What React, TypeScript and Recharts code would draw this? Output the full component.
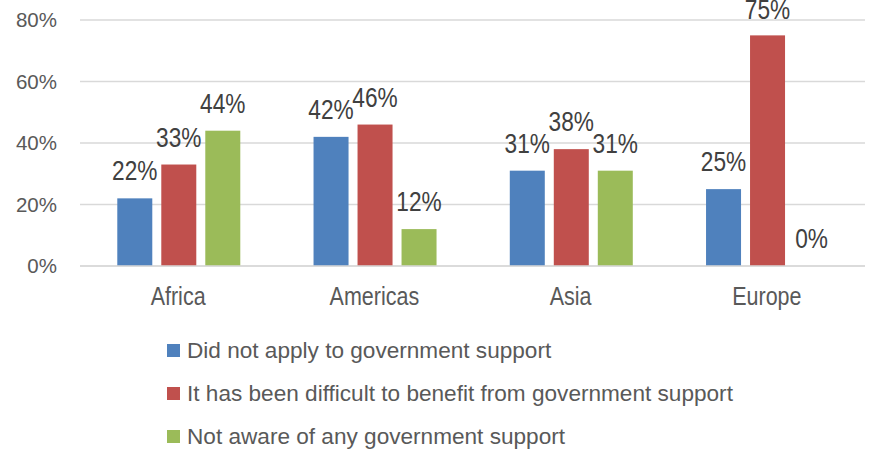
import React from 'react';
import { BarChart, Bar, XAxis, YAxis, CartesianGrid } from 'recharts';

const categories = ['Africa', 'Americas', 'Asia', 'Europe'];
const didNotApply = [22, 42, 31, 25];
const difficult = [33, 46, 38, 75];
const notAware = [44, 12, 31, 0];
const yTicks = [0, 20, 40, 60, 80];

const seriesNames = [
  'Did not apply to government support',
  'It has been difficult to benefit from government support',
  'Not aware of any government support',
];
const colors = ['#4F81BD', '#C0504D', '#9BBB59'];

const data = categories.map((c, i) => ({
  name: c,
  a: didNotApply[i],
  b: difficult[i],
  c: notAware[i],
}));

const FONT = '"Liberation Sans", Arial, sans-serif';

const pct = (v: any) => `${v}%`;

const makeShape = (fill: string, key: string) => (props: any) => {
  const { x, y, width, height, payload } = props;
  const v = payload ? payload[key] : props.value;
  const h = Math.max(0, height || 0);
  const cx = x + width / 2;
  const by = Math.max(y - 18, 19);
  return (
    <g>
      {h > 0 && <rect x={x} y={y} width={width} height={h} fill={fill} />}
      <text
        transform={`translate(${cx},${by}) scale(0.81,1)`}
        x={0}
        y={0}
        textAnchor="middle"
        fill="#404040"
        fontSize={28}
        fontFamily={FONT}
      >
        {pct(v)}
      </text>
    </g>
  );
};

const XTick = (props: any) => {
  const { x, y, payload } = props;
  return (
    <text
      transform={`translate(${x},${y + 39}) scale(0.86,1)`}
      x={0}
      y={0}
      textAnchor="middle"
      fill="#595959"
      fontSize={25}
      fontFamily={FONT}
    >
      {payload.value}
    </text>
  );
};

export default function App() {
  return (
    <div style={{ position: 'absolute', left: 0, top: 0, width: 869, height: 454, background: '#fff', fontFamily: FONT }}>
      <BarChart
        width={869}
        height={454}
        data={data}
        margin={{ top: 20, right: 4, bottom: 148, left: 0 }}
        barGap={9}
        barCategoryGap="19%"
      >
        <CartesianGrid vertical={false} stroke="#d9d9d9" strokeWidth={1.5} />
        <XAxis
          dataKey="name"
          height={40}
          axisLine={{ stroke: '#d9d9d9', strokeWidth: 1.5 }}
          tickLine={false}
          tickSize={0}
          tickMargin={0}
          tick={<XTick />}
        />
        <YAxis
          width={80}
          domain={[0, 80]}
          ticks={yTicks}
          tickFormatter={pct}
          axisLine={false}
          tickLine={false}
          tickSize={0}
          tickMargin={23}
          tick={{ fill: '#595959', fontSize: 20.5, fontFamily: FONT }}
        />
        {(['a', 'b', 'c'] as const).map((k, i) => (
          <Bar
            key={k}
            dataKey={k}
            name={seriesNames[i]}
            fill={colors[i]}
            isAnimationActive={false}
            shape={makeShape(colors[i], k)}
          />
        ))}
      </BarChart>
      <div style={{ position: 'absolute', left: 167, top: 329 }}>
        {seriesNames.map((n, i) => (
          <div key={n} style={{ display: 'flex', alignItems: 'center', height: 43, fontSize: 22.6, color: '#595959', whiteSpace: 'nowrap' }}>
            <span style={{ display: 'inline-block', width: 13, height: 13, background: colors[i], marginRight: 7 }} />
            <span>{n}</span>
          </div>
        ))}
      </div>
    </div>
  );
}
